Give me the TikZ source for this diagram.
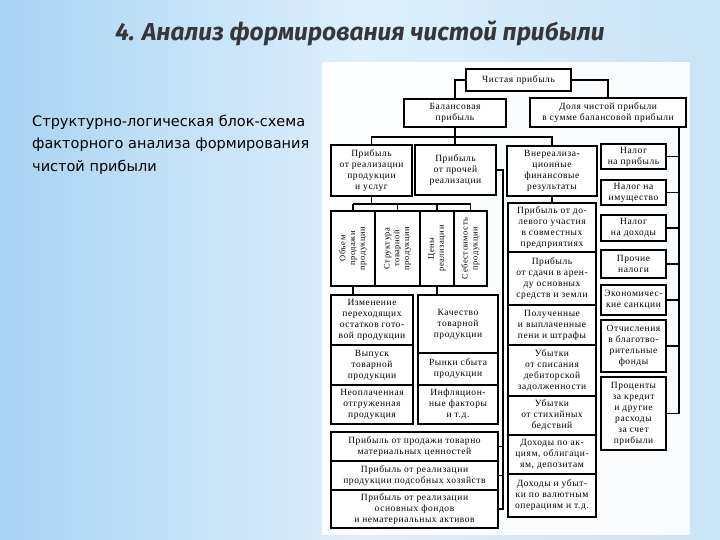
\documentclass[tikz,border=0pt]{standalone}
\usepackage{fontspec}
\setmainfont{Liberation Serif}
\newfontfamily\titlefont{Fira Sans}
\newfontfamily\leftfont{DejaVu Sans}
\newfontfamily\dfont[LetterSpace=6]{Liberation Serif}
\usetikzlibrary{calc}
\definecolor{bgl}{RGB}{168,212,242}
\definecolor{bgm}{RGB}{222,239,251}
\definecolor{bgr}{RGB}{200,228,247}
\definecolor{titlec}{RGB}{55,55,58}
\newcommand\bx[6]{\node[bx, minimum width={(#4-#2)*1pt}, minimum height={(#5-#3)*1pt}] (#1) at ({(#2+#4)/2},{(#3+#5)/2}) {#6};}
\newcommand\vbx[6]{\node[bx, rotate=90, minimum width={(#5-#3)*1pt}, minimum height={(#4-#2)*1pt}, font=\dfont\fontsize{8.5}{9.8}\selectfont] (#1) at ({(#2+#4)/2},{(#3+#5)/2}) {#6};}
\begin{document}
\begin{tikzpicture}[x=1pt,y=-1pt,
  bx/.style={draw, line width=1.3pt, align=center, inner sep=0pt, fill=white,
    font=\dfont\fontsize{9.5}{11}\selectfont},
  ln/.style={line width=1.3pt}]
\useasboundingbox (0,0) rectangle (720,540);
\shade[left color=bgl, right color=bgr, middle color=bgm] (0,0) rectangle (720,540);
\fill[white, opacity=0.9] (322,62) rectangle (690,535);
% title
\node[font=\titlefont\bfseries\itshape\fontsize{24.5}{28}\selectfont, text=titlec] (title) at (360,33) {4. Анализ формирования чистой прибыли};
% left text
\node[anchor=north west, align=left, inner sep=0pt, font=\leftfont\fontsize{14.5}{22.5}\selectfont] (lt) at (32,115)
  {Структурно-логическая блок-схема\\факторного анализа формирования\\чистой прибыли};
% boxes
\bx{chist}{466}{69}{571}{91}{Чистая прибыль}
\bx{bal}{404}{99}{506}{127}{Балансовая\\прибыль}
\bx{dolya}{530}{98}{686}{127}{Доля чистой прибыли\\в сумме балансовой прибыли}
\bx{real}{331}{145}{412}{196}{Прибыль\\от реализации\\продукции\\и услуг}
\bx{prr}{415}{145}{496}{195}{Прибыль\\от прочей\\реализации}
\bx{vner}{507}{146}{597}{196}{Внереализа-\\ционные\\финансовые\\результаты}
% vertical factor boxes
\vbx{obj}{331}{211}{375}{286}{Объем\\продажи\\продукции}
\vbx{str}{375}{211}{420}{286}{Структура\\товарной\\продукции}
\vbx{cen}{420}{211}{454}{286}{Цены\\реализации}
\vbx{seb}{454}{211}{487}{286}{Себестоимость\\продукции}
% left columns
\bx{izm}{331}{295}{413}{345}{Изменение\\переходящих\\остатков гото-\\вой продукции}
\bx{vyp}{331}{345}{413}{385}{Выпуск\\товарной\\продукции}
\bx{neo}{331}{385}{413}{424}{Неоплаченная\\отгруженная\\продукция}
\bx{kach}{418}{295}{498}{353}{Качество\\товарной\\продукции}
\bx{ryn}{418}{353}{498}{385}{Рынки сбыта\\продукции}
\bx{inf}{418}{385}{498}{424}{Инфляцион-\\ные факторы\\и т.д.}
% bottom boxes
\bx{tmc}{331}{432}{498}{461}{Прибыль от продажи товарно\\материальных ценностей}
\bx{pods}{331}{461}{498}{490}{Прибыль от реализации\\продукции подсобных хозяйств}
\bx{osn}{331}{490}{498}{528}{Прибыль от реализации\\основных фондов\\и нематериальных активов}
% non-operating column
\bx{dol}{508}{203}{596}{252}{Прибыль от до-\\левого участия\\в совместных\\предприятиях}
\bx{ar}{508}{252}{596}{305}{Прибыль\\от сдачи в арен-\\ду основных\\средств и земли}
\bx{peni}{508}{305}{596}{345}{Полученные\\и выплаченные\\пени и штрафы}
\bx{spis}{508}{345}{596}{396}{Убытки\\от списания\\дебиторской\\задолженности}
\bx{stih}{508}{396}{596}{435}{Убытки\\от стихийных\\бедствий}
\bx{akc}{508}{435}{596}{474}{Доходы по ак-\\циям, облигаци-\\ям, депозитам}
\bx{val}{508}{474}{596}{517}{Доходы и убыт-\\ки по валютным\\операциям и т.д.}
% tax column
\bx{np}{601}{144}{666}{169}{Налог\\на прибыль}
\bx{ni}{601}{180}{666}{205}{Налог на\\имущество}
\bx{nd}{601}{215}{666}{241}{Налог\\на доходы}
\bx{pn}{601}{250}{666}{278}{Прочие\\налоги}
\bx{ek}{601}{285}{666}{315}{Экономичес-\\кие санкции}
\bx{ot}{601}{320}{666}{372}{Отчисления\\в благотво-\\рительные\\фонды}
\bx{pc}{601}{377}{666}{450}{Проценты\\за кредит\\и другие\\расходы\\за счет\\прибыли}
% connectors
\coordinate (bar1) at (0,137);
\coordinate (bar2) at (0,204);
\coordinate (brx) at (503,0);
\coordinate (tbx) at (679,0);
\draw[ln] (chist.west) -| (bal.north);
\draw[ln] (chist.east) -| (dolya.north);
\draw[ln] (bal.south) -- (bal.south |- prr.north);
\draw[ln] (real.north) |- (vner.north |- bar1) -- (vner.north);
\draw[ln] (real.south) -- (real.south |- bar2);
\draw[ln] (obj.east |- bar2) -- (seb.east |- bar2);
\foreach \n in {obj,str,cen,seb} \draw[ln] (\n.east |- bar2) -- (\n.east);
\draw[ln] (obj.west) -- (obj.west |- izm.north);
\draw[ln] (cen.west) -- (cen.west |- kach.north);
\draw[ln] (prr.east) -- (prr.east -| brx) -- (brx |- osn.east) -- (osn.east);
\foreach \n in {tmc,pods} \draw[ln] (brx |- \n.east) -- (\n.east);
\draw[ln] (vner.south) -- (vner.south |- dol.north);
\draw[ln] (dolya.south -| tbx) -- (tbx |- pc.east) -- (pc.east);
\foreach \n in {np,ni,nd,pn,ek,ot} \draw[ln] (tbx |- \n.east) -- (\n.east);
\end{tikzpicture}
\end{document}
